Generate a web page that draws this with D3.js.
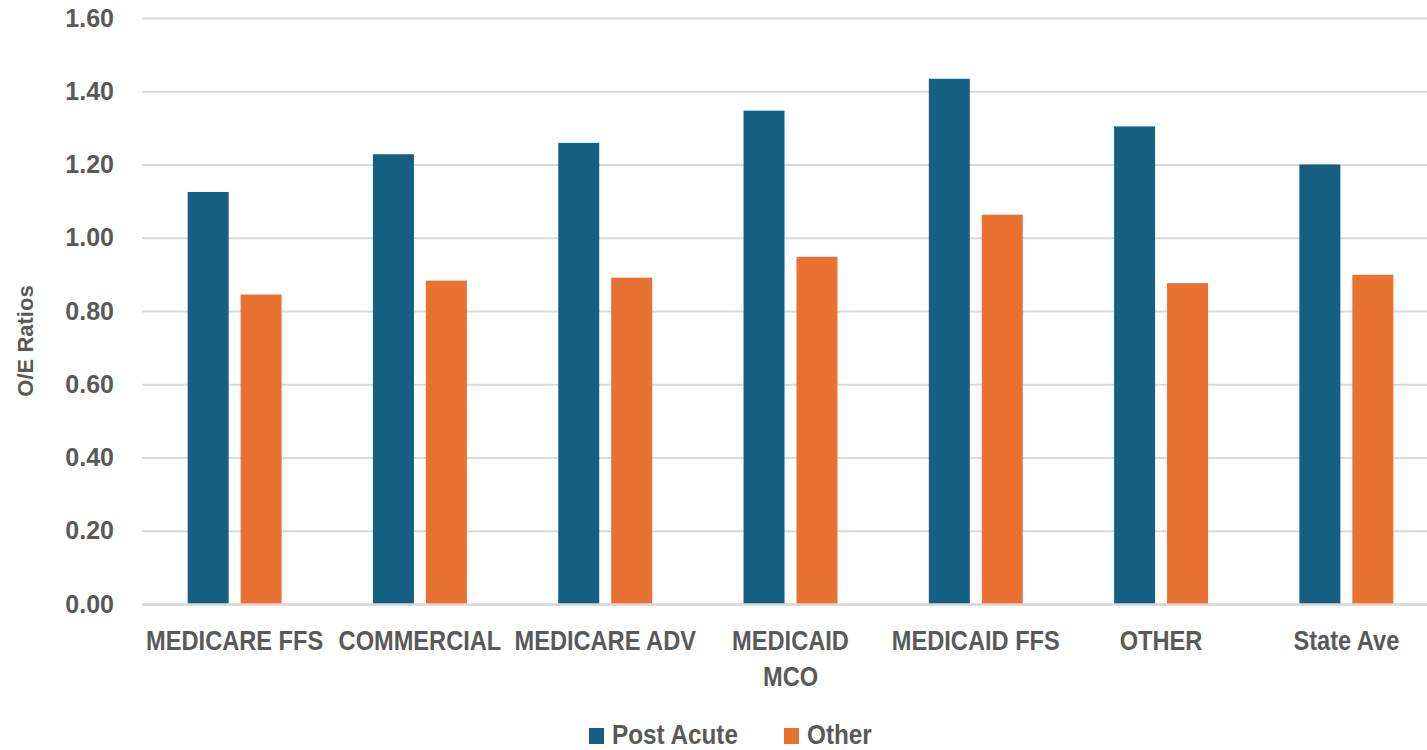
<!DOCTYPE html>
<html>
<head>
<meta charset="utf-8">
<script src="https://cdn.jsdelivr.net/npm/d3@7"></script>
<style>
  html, body { margin: 0; padding: 0; background: #fff; overflow: hidden; }
  svg { display: block; }
</style>
</head>
<body>
<svg id="chart" width="1427" height="750"></svg>
<script>
// Payer categories and O/E ratios by discharge disposition
const categories = ["MEDICARE FFS", "COMMERCIAL", "MEDICARE ADV", "MEDICAID MCO", "MEDICAID FFS", "OTHER", "State Ave"];
const categoryLines = [["MEDICARE FFS"], ["COMMERCIAL"], ["MEDICARE ADV"], ["MEDICAID", "MCO"], ["MEDICAID FFS"], ["OTHER"], ["State Ave"]];
const seriesNames = ["Post Acute", "Other"];
const postAcute = [1.125, 1.228, 1.259, 1.347, 1.434, 1.304, 1.200];
const other = [0.845, 0.883, 0.891, 0.948, 1.063, 0.876, 0.899];
const yTicks = [0, 0.2, 0.4, 0.6, 0.8, 1.0, 1.2, 1.4, 1.6];
const colors = ["#156082", "#E97132"];

const rows = categories.map((c, i) => ({ category: c, values: [postAcute[i], other[i]] }));

const svg = d3.select("#chart");
const plot = { left: 142, right: 1439, top: 18, bottom: 604 };
const textColor = "#595959";
const gridColor = "#d9d9d9";
const font = "'Liberation Sans', Arial, sans-serif";
const condense = 0.875; // horizontal squeeze for the narrow label face

const x0 = d3.scaleBand().domain(categories).range([plot.left, plot.right])
  .paddingInner(0.493).paddingOuter(0.2465);
const x1 = d3.scaleBand().domain(seriesNames).range([0, x0.bandwidth()]).paddingInner(0.226);
const y = d3.scaleLinear().domain([0, 1.6]).range([plot.bottom, plot.top]);

// Horizontal gridlines and value labels
const yAxis = d3.axisLeft(y).tickValues(yTicks).tickFormat(d3.format(".2f"))
  .tickSize(-(plot.right - plot.left)).tickPadding(28);
const gy = svg.append("g").attr("transform", `translate(${plot.left},0)`).call(yAxis);
gy.select(".domain").remove();
gy.selectAll(".tick line").attr("stroke", gridColor).attr("stroke-width", 2);
gy.selectAll(".tick text")
  .attr("fill", textColor).attr("font-family", font)
  .attr("font-weight", "bold").attr("font-size", 25);

// Grouped bars
const groups = svg.append("g").selectAll("g").data(rows).join("g")
  .attr("transform", d => `translate(${x0(d.category)},0)`);
groups.selectAll("rect")
  .data(d => d.values.map((v, k) => ({ key: seriesNames[k], value: v, k })))
  .join("rect")
  .attr("x", d => x1(d.key))
  .attr("width", x1.bandwidth())
  .attr("y", d => y(d.value))
  .attr("height", d => y(0) - y(d.value))
  .attr("fill", d => colors[d.k]);

// Category axis
const xAxis = d3.axisBottom(x0).tickSize(0).tickPadding(27);
const gx = svg.append("g").attr("transform", `translate(0,${plot.bottom})`).call(xAxis);
gx.select(".domain").attr("stroke", gridColor).attr("stroke-width", 2.5);
gx.selectAll(".tick text")
  .attr("fill", textColor).attr("font-family", font)
  .attr("font-weight", "bold").attr("font-size", 27)
  .attr("transform", `scale(${condense},1)`)
  .each(function (d, i) {
    const text = d3.select(this);
    const yAttr = text.attr("y");
    text.text(null);
    categoryLines[i].forEach((line, j) => {
      text.append("tspan").attr("x", 0).attr("y", yAttr)
        .attr("dy", (0.71 + j * 1.33) + "em").text(line);
    });
  });

// Axis title
svg.append("text")
  .attr("transform", `translate(33,341) rotate(-90)`)
  .attr("text-anchor", "middle")
  .attr("fill", textColor).attr("font-family", font)
  .attr("font-weight", "bold").attr("font-size", 22)
  .text("O/E Ratios");

// Legend
const legendItems = [{ name: seriesNames[0], x: 589 }, { name: seriesNames[1], x: 784 }];
const legend = svg.append("g").selectAll("g").data(legendItems).join("g")
  .attr("transform", d => `translate(${d.x},728)`);
legend.append("rect").attr("width", 15).attr("height", 16)
  .attr("fill", (d, i) => colors[i]);
legend.append("text")
  .attr("transform", `translate(23,16) scale(0.9,1)`)
  .attr("fill", textColor).attr("font-family", font)
  .attr("font-weight", "bold").attr("font-size", 27)
  .text(d => d.name);
</script>
</body>
</html>
